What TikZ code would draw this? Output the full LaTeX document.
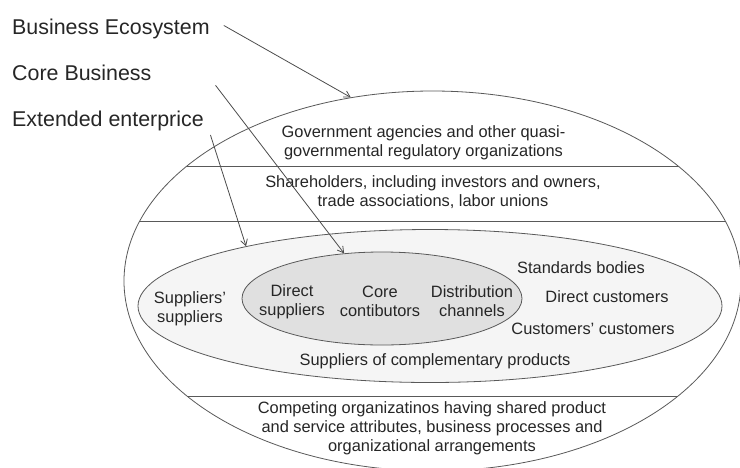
\documentclass[tikz,border=0pt]{standalone}
\usepackage{fontspec}
\setmainfont{Liberation Sans}
\usetikzlibrary{shapes.geometric,arrows.meta}

\begin{document}
\begin{tikzpicture}[x=1pt,y=-1pt]
	  \tikzstyle{ring}=[ellipse,draw=black!65,line width=0.8pt,inner sep=0pt]
	  \tikzstyle{caption}=[inner sep=0pt,anchor=base west,text=black!85,
				  font=\fontsize{21.4}{25}\selectfont]
	  \tikzstyle{member}=[inner sep=0pt,align=center,text=black!85,
				  font=\fontsize{16.4}{19}\selectfont]
	  \tikzstyle{pointer}=[draw=black!70,line width=0.8pt,-{Straight Barb[length=6pt,width=7pt]}]

	\useasboundingbox (0,0) rectangle (740,467);
	\clip (0,0) rectangle (740,467);

	\node (eco_ring)[ring,fill=white,minimum width=617pt,minimum height=380pt] at (432.5,281) {};
	\begin{scope}
		\clip (432.5,281) ellipse [x radius=308.5, y radius=190];
		\foreach \y in {166,221,396}
			\draw[black!65,line width=0.8pt] (100,\y) -- (760,\y);
	\end{scope}
	\node (ext_ring)[ring,fill=black!4,minimum width=584pt,minimum height=153pt] at (430,306) {};
	\node (core_ring)[ring,fill=black!12,minimum width=280pt,minimum height=93pt] at (382,298.5) {};

	\node (eco_label)[caption] at (12,34) {Business Ecosystem};
	\node (core_label)[caption] at (12,80) {Core Business};
	\node (ext_label)[caption] at (12,126) {Extended enterprice};

	\node (gov)[member] at (423.5,142.5) {Government agencies and other quasi-\\governmental regulatory organizations};
	\node (share)[member] at (433,192.5) {Shareholders, including investors and owners,\\trade associations, labor unions};
	\node (compete)[member] at (432,428.5) {Competing organizatinos having shared product\\and service attributes, business processes and\\organizational arrangements};
	\node (sup_sup)[member] at (190,309) {Suppliers'\\suppliers};
	\node (dir_sup)[member] at (292,301.5) {Direct\\suppliers};
	\node (core_con)[member] at (380,301.5) {Core\\contibutors};
	\node (distr)[member] at (472,301.5) {Distribution\\channels};
	\node (standards)[member] at (581,268) {Standards bodies};
	\node (dir_cust)[member] at (607,297) {Direct customers};
	\node (cust_cust)[member] at (593,329) {Customers' customers};
	\node (compl)[member] at (435,361) {Suppliers of complementary products};

	\draw[pointer] ([xshift=14pt,yshift=3pt]eco_label.east) -- (eco_ring.114);
	\draw[pointer] ([xshift=64pt,yshift=-13pt]core_label.east) -- (core_ring.130);
	\draw[pointer] ([xshift=6.5pt,yshift=-14.5pt]ext_label.east) -- (ext_ring.162);
\end{tikzpicture}
\end{document}
